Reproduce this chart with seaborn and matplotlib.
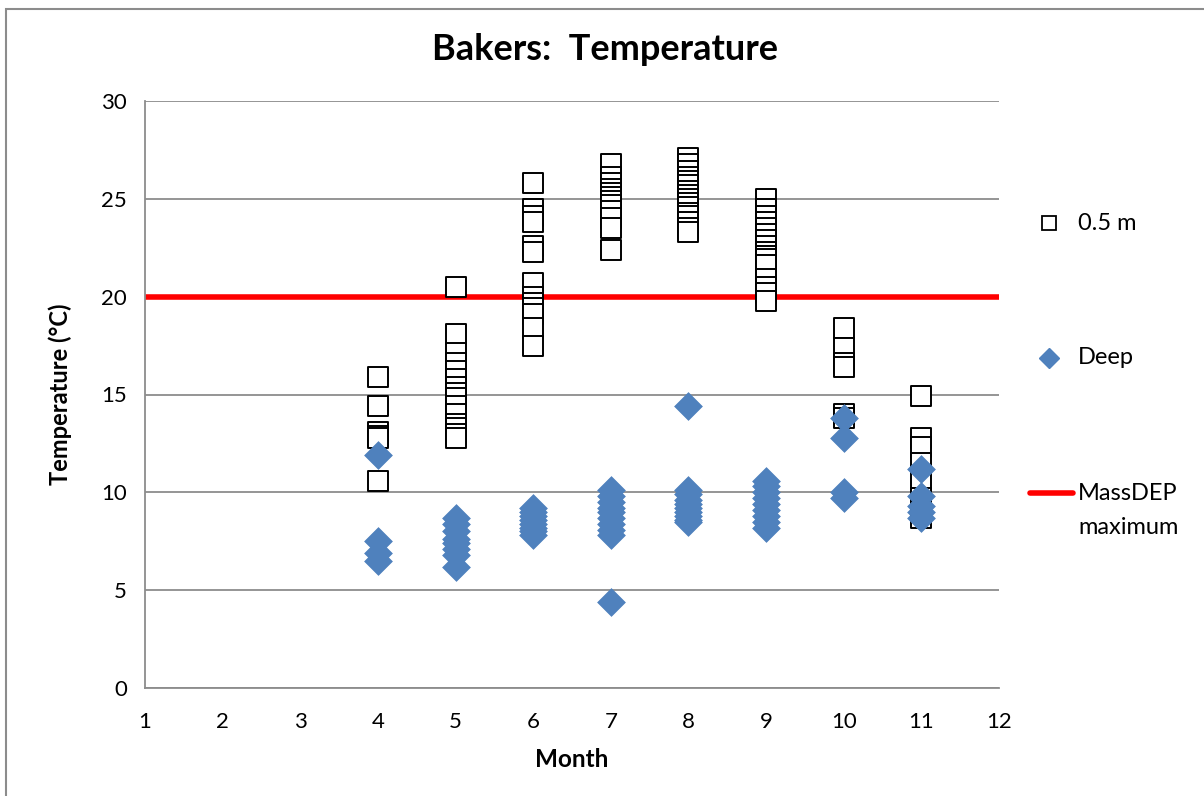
import matplotlib
matplotlib.use("Agg")
import matplotlib.pyplot as plt
import seaborn as sns
import pandas as pd
from matplotlib.lines import Line2D
from matplotlib.patches import Rectangle

# ---- data ----
shallow_m4 = [15.9, 14.4, 13.1, 12.9, 12.8, 10.6]
shallow_m5 = [20.5, 18.1, 17.1, 16.6, 16.2, 15.8, 15.4, 15.1, 14.8, 14.4, 14.0, 13.5, 13.3, 13.0, 12.8]
shallow_m6 = [25.8, 24.5, 24.1, 23.8, 22.6, 22.3, 20.7, 20.0, 19.7, 19.4, 19.1, 18.4, 17.5]
shallow_m7 = [26.8, 26.1, 25.8, 25.5, 25.3, 25.1, 24.9, 24.7, 24.4, 24.0, 23.5, 22.4]
shallow_m8 = [27.1, 26.8, 26.4, 26.1, 25.9, 25.7, 25.4, 25.2, 25.0, 24.8, 24.6, 24.3, 24.1, 23.8, 23.5, 23.3]
shallow_m9 = [25.0, 24.5, 24.1, 23.8, 23.5, 23.2, 22.9, 22.6, 22.3, 22.1, 21.9, 21.6, 20.9, 20.5, 20.2, 19.8]
shallow_m10 = [18.4, 17.4, 16.6, 16.4, 14.0, 13.8]
shallow_m11 = [14.9, 12.8, 12.3, 11.5, 10.6, 9.7, 9.0, 8.7]

deep_m4 = [11.9, 7.5, 6.9, 6.5]
deep_m5 = [8.7, 8.4, 8.0, 7.6, 7.4, 7.1, 6.8, 6.2]
deep_m6 = [9.2, 9.0, 8.8, 8.6, 8.4, 8.2, 8.0, 7.8]
deep_m7 = [10.1, 9.8, 9.5, 9.2, 9.0, 8.7, 8.4, 8.1, 7.8, 4.4]
deep_m8 = [14.4, 10.1, 9.9, 9.6, 9.4, 9.2, 9.0, 8.8, 8.6, 8.5]
deep_m9 = [10.6, 10.3, 10.0, 9.7, 9.4, 9.1, 8.8, 8.5, 8.2]
deep_m10 = [13.8, 12.8, 10.0, 9.7]
deep_m11 = [11.2, 9.8, 9.3, 9.0, 8.7]

months = [4, 5, 6, 7, 8, 9, 10, 11]
shallow = [shallow_m4, shallow_m5, shallow_m6, shallow_m7, shallow_m8, shallow_m9, shallow_m10, shallow_m11]
deep = [deep_m4, deep_m5, deep_m6, deep_m7, deep_m8, deep_m9, deep_m10, deep_m11]
massdep_max = 20
x_ticks = list(range(1, 13))
y_ticks = [0, 5, 10, 15, 20, 25, 30]

rows = []
for m, vals in zip(months, shallow):
    rows += [{"Month": m, "Temp": v, "Series": "0.5 m"} for v in vals]
for m, vals in zip(months, deep):
    rows += [{"Month": m, "Temp": v, "Series": "Deep"} for v in vals]
df = pd.DataFrame(rows)

sns.set_theme(style="white")
plt.rcParams['font.family'] = ['Lato', 'DejaVu Sans']
plt.rcParams['text.color'] = 'black'
plt.rcParams['axes.labelcolor'] = 'black'

fig = plt.figure(figsize=(12.04, 7.96), dpi=100)
ax = fig.add_axes([145/1204, 1-688/796, (999-145)/1204, (688-101)/796])

grid_c = "#8c8c8c"
ax.set_axisbelow(True)
for y in y_ticks:
    ax.axhline(y, color=grid_c, lw=1.3, zorder=0)

ax.axhline(massdep_max, color="#ff0000", lw=4, zorder=1)

sns.scatterplot(data=df[df.Series == "0.5 m"], x="Month", y="Temp", ax=ax,
                marker="s", s=215, facecolor="white", edgecolor="black",
                linewidth=1.4, legend=False, zorder=2)
sns.scatterplot(data=df[df.Series == "Deep"], x="Month", y="Temp", ax=ax,
                marker="D", s=200, color="#4f81bd", edgecolor="#4f81bd",
                linewidth=0.5, legend=False, zorder=3)

ax.set_xlim(1, 12)
ax.set_ylim(0, 30)
ax.set_xticks(x_ticks)
ax.set_yticks(y_ticks)
for s in ["top", "right"]:
    ax.spines[s].set_visible(False)
for s in ["left", "bottom"]:
    ax.spines[s].set_color(grid_c)
    ax.spines[s].set_linewidth(1.3)
ax.tick_params(axis="both", direction="out", length=7, width=1.3, color=grid_c,
               labelsize=16, labelcolor="black", pad=6)
ax.tick_params(axis="x", pad=10)

ax.set_xlabel("Month", fontsize=17.5, fontweight="bold", labelpad=12)
ax.set_ylabel("Temperature (°C)", fontsize=17, fontweight="bold", labelpad=21)
fig.text(605/1204, 1-49/796, "Bakers:  Temperature", ha="center", va="center",
         fontsize=26, fontweight="bold")

# legend (drawn manually to match the stacked layout)
def fx(px):
    return px / 1204
def fy(py):
    return 1 - py / 796

fig.add_artist(Line2D([fx(1049)], [fy(223)], linestyle="none", marker="s", markersize=10.5,
                      markerfacecolor="white", markeredgecolor="black", markeredgewidth=1.3,
                      transform=fig.transFigure))
fig.text(fx(1078), fy(223), "0.5 m", fontsize=17, va="center", ha="left")
fig.add_artist(Line2D([fx(1049)], [fy(358)], linestyle="none", marker="D", markersize=10,
                      markerfacecolor="#4f81bd", markeredgecolor="#4f81bd",
                      transform=fig.transFigure))
fig.text(fx(1078), fy(358), "Deep", fontsize=17, va="center", ha="left")
fig.add_artist(Line2D([fx(1030), fx(1073)], [fy(493), fy(493)], color="#ff0000", lw=4,
                      transform=fig.transFigure))
fig.text(fx(1078), fy(493), "MassDEP", fontsize=17, va="center", ha="left")
fig.text(fx(1078), fy(527), "maximum", fontsize=17, va="center", ha="left")

fig.patches.append(Rectangle((6/1204, -0.1), 1.2, 1-9/796+0.1, transform=fig.transFigure,
                             fill=False, edgecolor="#8c8c8c", lw=1.5))

fig.savefig("out.png", dpi=100, facecolor="white")
